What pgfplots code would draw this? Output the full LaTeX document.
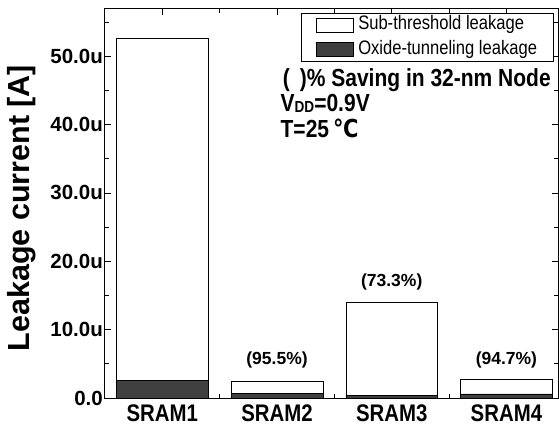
\documentclass[border=0pt]{standalone}
\usepackage{pgfplots}
\pgfplotsset{compat=1.18}
\usepackage{fontspec}
\setmainfont{Liberation Sans}
\newfontfamily\cond[FakeStretch=0.85]{Liberation Sans}
\newfontfamily\dejavu[FakeStretch=0.85]{DejaVu Sans}
\definecolor{darkbar}{HTML}{404040}

\begin{document}
\begin{tikzpicture}
\begin{axis}[
  scale only axis,
  width=453pt, height=389pt,
  xmin=0.5, xmax=4.45,
  ymin=0, ymax=56.9,
  ybar stacked,
  bar width=0.8,
  xtick={1,2,3,4},
  xticklabels={SRAM1,SRAM2,SRAM3,SRAM4},
  minor xtick={1.5,2.5,3.5},
  ytick={0,10,20,30,40,50},
  yticklabels={0.0,10.0u,20.0u,30.0u,40.0u,50.0u},
  minor ytick={5,15,25,35,45,55},
  tick align=inside,
  tick pos=both,
  major tick length=6pt,
  minor tick length=4pt,
  tick style={black, line width=0.8pt},
  axis line style={line width=1pt},
  yticklabel style={font=\bfseries\fontsize{20.5}{20.5}\selectfont, inner xsep=2pt},
  xticklabel style={font=\cond\bfseries\fontsize{24}{24}\selectfont, inner ysep=2pt, yshift=-5pt},
  ylabel={Leakage current [A]},
  every axis y label/.style={at={(rel axis cs:0,0.488)}, xshift=-83pt, rotate=90, anchor=center, font=\bfseries\fontsize{30.5}{30.5}\selectfont},
  reverse legend,
  legend cell align=left,
  legend style={at={(0.991,0.990)}, anchor=north east, draw=black, line width=0.8pt,
    font=\cond\fontsize{19.5}{20}\selectfont, inner xsep=15pt, inner ysep=2pt,
    row sep=5pt, column sep=3pt,
    nodes={inner sep=1.5pt, text height=13pt, text depth=3.5pt}},
]
\coordinate (SW) at (rel axis cs:0,0);
\coordinate (NE) at (rel axis cs:1,1);
\addplot[fill=darkbar, draw=black, line width=0.6pt,
  legend image code/.code={\draw[fill=darkbar, draw=black, line width=0.6pt] (0pt,-7pt) rectangle (37pt,7pt);}]
  coordinates {(1,2.6) (2,0.7) (3,0.4) (4,0.6)};
\addlegendentry{Oxide-tunneling leakage}
\addplot[fill=white, draw=black, line width=0.6pt,
  legend image code/.code={\draw[fill=white, draw=black, line width=0.6pt] (0pt,-7pt) rectangle (37pt,7pt);}]
  coordinates {(1,50.0) (2,1.67) (3,13.64) (4,2.19)};
\addlegendentry{Sub-threshold leakage}

\node[font=\bfseries\fontsize{17.5}{17.5}\selectfont] at (axis cs:2,5.6) {(95.5\%)};
\node[font=\bfseries\fontsize{17.5}{17.5}\selectfont] at (axis cs:3,17.0) {(73.3\%)};
\node[font=\bfseries\fontsize{17.5}{17.5}\selectfont] at (axis cs:4,5.6) {(94.7\%)};

\node[anchor=west, inner sep=0pt, font=\cond\bfseries\fontsize{24.7}{24.7}\selectfont] at (axis cs:2.05,46.5) {(\ \,)\% Saving in 32-nm Node};
\node[anchor=west, inner sep=0pt, font=\cond\bfseries\fontsize{24.7}{24.7}\selectfont] at (axis cs:2.03,43.1) {V\raisebox{-0.5pt}{\fontsize{16}{16}\selectfont DD}=0.9V};
\node[anchor=west, inner sep=0pt, font=\cond\bfseries\fontsize{24.7}{24.7}\selectfont] at (axis cs:2.03,39.5) {T=25\,{\dejavu ℃}};
\end{axis}
\pgfresetboundingbox
\path[use as bounding box] ([shift={(-105pt,-33pt)}]SW) rectangle ([shift={(1pt,9pt)}]NE);
\end{tikzpicture}
\end{document}
